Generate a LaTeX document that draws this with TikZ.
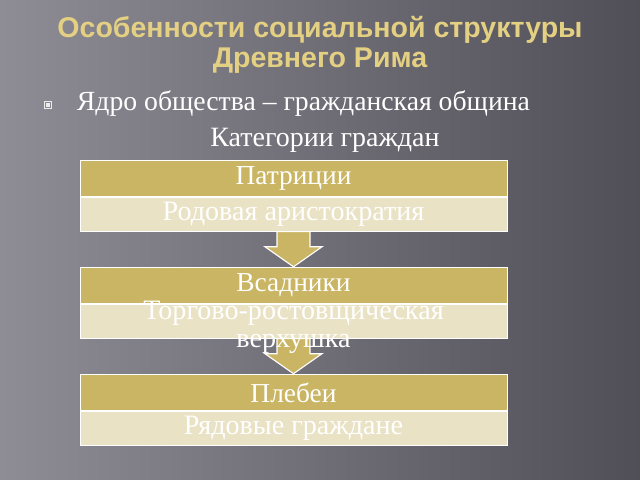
\documentclass[tikz,border=0pt]{standalone}
\usepackage{fontspec}
\setmainfont{Liberation Serif}
\newfontfamily\headfont{Liberation Sans}
\usetikzlibrary{positioning, calc}

\definecolor{romegold}{RGB}{201,181,99}
\definecolor{romelight}{RGB}{233,226,196}
\definecolor{titlegold}{RGB}{228,208,130}
\definecolor{bgleft}{RGB}{142,140,148}
\definecolor{bgright}{RGB}{80,78,86}

\begin{document}
\begin{tikzpicture}[
    x=0.025cm, y=-0.025cm,
    headbox/.style={draw=white, line width=0.6pt, fill=romegold, minimum width=10.675cm, minimum height=0.91cm, inner sep=0pt},
    bodybox/.style={draw=white, line width=0.6pt, fill=romelight, minimum width=10.675cm, minimum height=0.84cm, inner sep=0pt},
    headtext/.style={text=white, font=\fontsize{19.5}{21}\selectfont},
    bodytext/.style={text=white, align=center, font=\fontsize{20}{20}\selectfont},
    blockarrow/.style={draw=white, line width=0.8pt, fill=romegold, line join=miter}
]

% Background
\shade[left color=bgleft, right color=bgright] (0,0) rectangle (640,480);
\useasboundingbox (0,0) rectangle (640,480);

% Title
\node[align=center, text=titlegold, font=\headfont\bfseries\fontsize{20.3}{21.3}\selectfont] (title) at (320,45)
    {Особенности социальной структуры\\Древнего Рима};

% Bullet line
\node[draw=white!85!gray, line width=0.5pt, minimum size=0.18cm, inner sep=0pt] (bul) at (48,105) {};
\node[fill=white!85!gray, minimum size=0.08cm, inner sep=0pt] (buldot) at (bul) {};
\node[anchor=west, text=white, font=\fontsize{19.7}{22}\selectfont] (core) at (72,104)
    {Ядро общества – гражданская община};
\node[text=white, font=\fontsize{19.9}{22}\selectfont] (cat) at (325,140) {Категории граждан};

% Boxes
\node[headbox] (p1) at (293.5,178.5) {};
\node[bodybox, below=0pt of p1] (r1) {};
\node[headbox, below=0.88cm of r1] (p2) {};
\node[bodybox, below=0pt of p2] (r2) {};
\node[headbox, below=0.88cm of r2] (p3) {};
\node[bodybox, below=0pt of p3] (r3) {};

% Down arrows
\foreach \i/\j in {1/2, 2/3} {
    \draw[blockarrow] ($(r\i.south)+(-16.5,0)$) -- ($(r\i.south)+(16.5,0)$)
        -- ($(p\j.north)+(16.5,-20)$) -- ($(p\j.north)+(28.5,-20)$) -- (p\j.north)
        -- ($(p\j.north)+(-28.5,-20)$) -- ($(p\j.north)+(-16.5,-20)$) -- cycle;
}

% Labels
\foreach \i/\htxt/\btxt/\dy in {1/Патриции/Родовая аристократия/0,
                                2/Всадники/{Торгово-ростовщическая\\верхушка}/6,
                                3/Плебеи/Рядовые граждане/0} {
    \node[headtext] (p\i t) at (p\i) {\htxt};
    \node[bodytext] (r\i t) at ($(r\i)+(0,\dy)$) {\btxt};
}

\end{tikzpicture}
\end{document}
